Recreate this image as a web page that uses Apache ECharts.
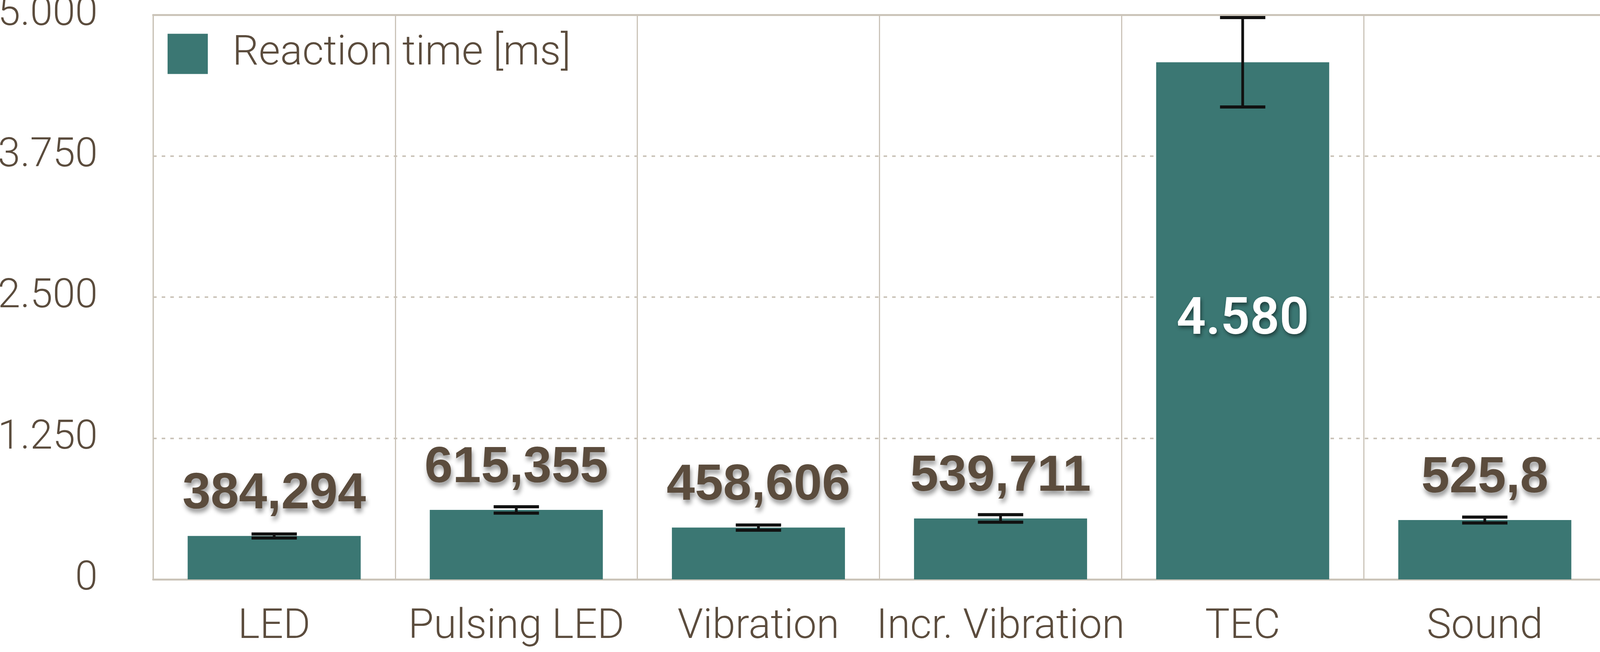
<!DOCTYPE html>
<html>
<head>
<meta charset="utf-8">
<script src="https://cdn.jsdelivr.net/npm/echarts@6/dist/echarts.min.js"></script>
<style>
  html, body { margin: 0; padding: 0; background: #fff; }
  #chart { width: 4118px; height: 1670px; }
</style>
</head>
<body>
<div id="chart"></div>
<script>
// categories and measured values (ms)
var categories = ['LED', 'Pulsing LED', 'Vibration', 'Incr. Vibration', 'TEC', 'Sound'];
var reactionTime = [384.294, 615.355, 458.606, 539.711, 4580, 525.8];
// error bar half-heights (ms)
var errors = [18, 28, 23, 33, 396, 26];
var yTicks = [0, 1250, 2500, 3750, 5000];
var seriesName = 'Reaction time [ms]';

var brown = '#5b4c3d';
var teal = '#3b7773';
var lineGrey = '#cbc4b9';

// german number format: 4580 -> 4.580, 384.294 -> 384,294
function deFormat(v) {
    var parts = String(v).split('.');
    var intPart = parts[0].replace(/\B(?=(\d{3})+(?!\d))/g, '.');
    return parts.length > 1 ? intPart + ',' + parts[1] : intPart;
}

var chart = echarts.init(document.getElementById('chart'));

var barData = reactionTime.map(function (v, i) {
    var item = {value: v};
    if (v > 2000) {
        // large bar: white label inside
        item.label = {
            position: 'inside',
            color: '#fff',
            fontFamily: 'Roboto, "Liberation Sans", sans-serif',
            fontWeight: 600,
            fontSize: 132,
            textShadowColor: 'rgba(0,0,0,0.45)',
            textShadowBlur: 10,
            textShadowOffsetX: 3,
            textShadowOffsetY: 6
        };
    }
    return item;
});

var errData = reactionTime.map(function (v, i) {
    return [i, v - errors[i], v + errors[i]];
});

chart.setOption({
    backgroundColor: '#fff',
    animation: false,
    grid: {
        left: 392, right: 7, top: 38, bottom: 186,
        containLabel: false,
        outerBoundsMode: 'none',
        show: true,
        borderColor: lineGrey,
        borderWidth: 3
    },
    legend: {
        data: [seriesName],
        left: 429,
        top: 85,
        padding: 0,
        itemWidth: 103,
        itemHeight: 103,
        icon: 'rect',
        textStyle: {
            color: brown,
            fontFamily: 'Roboto, "Liberation Sans", sans-serif',
            fontWeight: 300,
            fontSize: 106,
            padding: [0, 0, 0, 58]
        }
    },
    xAxis: [{
        type: 'category',
        data: categories,
        axisLine: {show: true, lineStyle: {color: lineGrey, width: 5}},
        axisTick: {show: false},
        splitLine: {show: true, lineStyle: {color: lineGrey, width: 3}},
        axisLabel: {
            color: brown,
            fontFamily: 'Roboto, "Liberation Sans", sans-serif',
            fontWeight: 300,
            fontSize: 106,
            margin: 70,
            interval: 0
        }
    }, {
        // thick top border
        type: 'category',
        position: 'top',
        data: categories,
        axisLine: {show: true, lineStyle: {color: lineGrey, width: 5}},
        axisTick: {show: false},
        axisLabel: {show: false},
        splitLine: {show: false}
    }],
    yAxis: {
        type: 'value',
        min: 0,
        max: 5000,
        interval: 1250,
        axisLine: {show: false},
        axisTick: {show: false},
        splitLine: {
            show: true,
            lineStyle: {color: lineGrey, width: 4, type: [9, 13]}
        },
        axisLabel: {
            color: brown,
            fontFamily: 'Roboto, "Liberation Sans", sans-serif',
            fontWeight: 300,
            fontSize: 104,
            margin: 142,
            formatter: function (v) {
                return yTicks.indexOf(v) >= 0 ? deFormat(v) : '';
            }
        }
    },
    series: [{
        name: seriesName,
        type: 'bar',
        data: barData,
        barWidth: 443,
        itemStyle: {color: teal},
        label: {
            show: true,
            position: 'top',
            distance: 42,
            color: brown,
            fontFamily: '"Liberation Sans", Arial, sans-serif',
            fontWeight: 'bold',
            fontSize: 130,
            textShadowColor: 'rgba(0,0,0,0.4)',
            textShadowBlur: 12,
            textShadowOffsetX: 3,
            textShadowOffsetY: 10,
            formatter: function (p) {
                return deFormat(p.value);
            }
        }
    }, {
        // error bars
        type: 'custom',
        data: errData,
        z: 5,
        renderItem: function (params, api) {
            var idx = api.value(0);
            var lo = api.coord([idx, api.value(1)]);
            var hi = api.coord([idx, api.value(2)]);
            var half = 58;
            var st = {stroke: '#111', lineWidth: 7};
            var cap = {stroke: '#111', lineWidth: 8};
            return {
                type: 'group',
                children: [
                    {type: 'line', shape: {x1: hi[0], y1: hi[1], x2: lo[0], y2: lo[1]}, style: st},
                    {type: 'line', shape: {x1: hi[0] - half, y1: hi[1], x2: hi[0] + half, y2: hi[1]}, style: cap},
                    {type: 'line', shape: {x1: lo[0] - half, y1: lo[1], x2: lo[0] + half, y2: lo[1]}, style: cap}
                ]
            };
        }
    }]
});
</script>
</body>
</html>
